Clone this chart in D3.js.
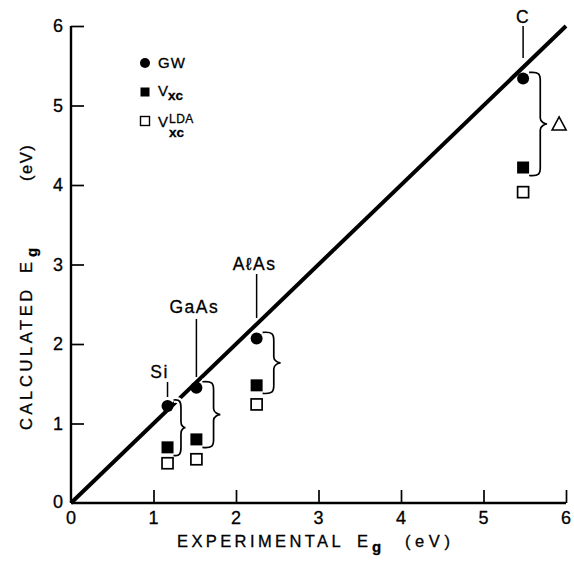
<!DOCTYPE html>
<html><head><meta charset="utf-8">
<script src="https://cdn.jsdelivr.net/npm/d3@7"></script>
<style>
body{margin:0;background:#fff;}
svg{display:block;}
text{font-family:"Liberation Sans","DejaVu Sans",sans-serif;fill:#000;stroke:#000;stroke-width:0.3px;}
</style></head>
<body><svg id="chart" width="574" height="561"></svg>
<script>
// ---- data ----
const materials = ["Si", "GaAs", "AℓAs", "C"];
const experimental = [1.17, 1.52, 2.25, 5.48];
const gwValues = [1.22, 1.45, 2.07, 5.34];
const vxcValues = [0.70, 0.80, 1.48, 4.22];
const vxcLdaValues = [0.50, 0.55, 1.24, 3.91];
const xTicks = [0, 1, 2, 3, 4, 5, 6];
const yTicks = [0, 1, 2, 3, 4, 5, 6];
const diagonal = [[0, 0], [6, 6]];

const svg = d3.select("#chart");
const x = d3.scaleLinear().domain([0, 6]).range([71, 566]);
const y = d3.scaleLinear().domain([0, 6]).range([503, 26]);

// axes lines
svg.append("line").attr("x1", x(0)).attr("x2", x(6)).attr("y1", y(0)).attr("y2", y(0))
  .attr("stroke", "#000").attr("stroke-width", 2.4);
svg.append("line").attr("x1", x(0)).attr("x2", x(0)).attr("y1", y(0)).attr("y2", y(6))
  .attr("stroke", "#000").attr("stroke-width", 2.4);

// inward ticks
const xa = svg.append("g").attr("transform", `translate(0,${y(0)})`)
  .call(d3.axisTop(x).tickValues(xTicks.slice(1)).tickSize(13).tickFormat(""));
xa.select(".domain").remove();
xa.selectAll("line").attr("stroke-width", 1.7);
const ya = svg.append("g").attr("transform", `translate(${x(0)},0)`)
  .call(d3.axisRight(y).tickValues(yTicks.slice(1)).tickSize(13).tickFormat(""));
ya.select(".domain").remove();
ya.selectAll("line").attr("stroke-width", 1.7);

// tick labels
svg.append("g").selectAll("text").data(xTicks).join("text")
  .attr("x", d => x(d)).attr("y", 524).attr("text-anchor", "middle")
  .attr("font-size", 18).text(d => d);
svg.append("g").selectAll("text").data(yTicks).join("text")
  .attr("x", 63).attr("y", d => y(d) + 6 - (d === 0 ? 1 : 0))
  .attr("text-anchor", "end").attr("font-size", 18).text(d => d);

// x axis title
svg.append("text").attr("x", 177).attr("y", 547).attr("font-size", 16.5)
  .attr("letter-spacing", 3.4).text("EXPERIMENTAL");
svg.append("text").attr("x", 357).attr("y", 547).attr("font-size", 16.5).text("E");
svg.append("text").attr("x", 372).attr("y", 552).attr("font-size", 15).attr("font-weight", "bold").text("g");
svg.append("text").attr("x", 405).attr("y", 547).attr("font-size", 16.5)
  .attr("letter-spacing", 4.6).text("(eV)");

// y axis title (rotated pieces)
function rotText(px, py, s, size, ls, weight) {
  return svg.append("text").attr("transform", `translate(${px},${py}) rotate(-90)`)
    .attr("font-size", size).attr("letter-spacing", ls).attr("font-weight", weight || "normal").text(s);
}
rotText(32, 430, "CALCULATED", 16.5, 3.6);
rotText(32, 273, "E", 16.5, 0);
rotText(37, 257, "g", 15, 0, "bold");
rotText(32, 181, "(eV)", 16.5, 1.5);

// diagonal line
svg.append("path").datum(diagonal)
  .attr("d", d3.line().x(d => x(d[0])).y(d => y(d[1])))
  .attr("stroke", "#000").attr("stroke-width", 4).attr("fill", "none");

// braces
function brace(xl, yTop, yBot, w) {
  const xb = xl + w * 0.62, xt2 = xl + w, ym = (yTop + yBot) / 2, r = 6;
  return `M${xl},${yTop} C${xb - 1},${yTop - 1} ${xb},${yTop + 2} ${xb},${yTop + r + 2}` +
    ` L${xb},${ym - r} C${xb},${ym - 2} ${xt2 - 2},${ym} ${xt2},${ym}` +
    ` C${xt2 - 2},${ym} ${xb},${ym + 2} ${xb},${ym + r}` +
    ` L${xb},${yBot - r - 2} C${xb},${yBot - 2} ${xb - 1},${yBot + 1} ${xl},${yBot}`;
}
const braceData = materials.map((m, i) => ({
  xl: x(experimental[i]) + 6,
  top: y(gwValues[i]) - 6,
  bot: y(vxcValues[i]) + 8,
  w: i === 0 ? 12 : 18
}));
const bg = svg.append("g");
bg.selectAll("path.bw").data(braceData).join("path")
  .attr("d", d => brace(d.xl, d.top, d.bot, d.w))
  .attr("fill", "none").attr("stroke", "#fff").attr("stroke-width", 6);
bg.selectAll("path.bk").data(braceData).join("path")
  .attr("d", d => brace(d.xl, d.top, d.bot, d.w))
  .attr("fill", "none").attr("stroke", "#000").attr("stroke-width", 1.7);

// delta triangle
const ci = 3;
const tx = x(experimental[ci]) + 36, ty = (y(gwValues[ci]) + y(vxcValues[ci])) / 2 + 1;
svg.append("path")
  .attr("d", `M${tx - 7},${ty + 6} L${tx + 7},${ty + 6} L${tx},${ty - 7} Z`)
  .attr("fill", "none").attr("stroke", "#000").attr("stroke-width", 1.6);

// markers
svg.append("g").selectAll("circle").data(materials).join("circle")
  .attr("cx", (d, i) => x(experimental[i])).attr("cy", (d, i) => y(gwValues[i]))
  .attr("r", 6).attr("fill", "#000");
svg.append("g").selectAll("rect").data(materials).join("rect")
  .attr("x", (d, i) => x(experimental[i]) - 6).attr("y", (d, i) => y(vxcValues[i]) - 6)
  .attr("width", 12).attr("height", 12).attr("fill", "#000");
svg.append("g").selectAll("rect").data(materials).join("rect")
  .attr("x", (d, i) => x(experimental[i]) - 5.5).attr("y", (d, i) => y(vxcLdaValues[i]) - 5.5)
  .attr("width", 11).attr("height", 11).attr("fill", "#fff")
  .attr("stroke", "#000").attr("stroke-width", 1.7);

// material labels with leaders
const labelInfo = [
  {dx: -8, ty: 378, l1: 382, l2: 397},
  {dx: -2, ty: 313, l1: 319, l2: 377},
  {dx: -2, ty: 270, l1: 274, l2: 318},
  {dx: 0, ty: 23, l1: 26, l2: 58}
];
materials.forEach((m, i) => {
  const px = x(experimental[i]);
  svg.append("text").attr("x", px + labelInfo[i].dx).attr("y", labelInfo[i].ty)
    .attr("text-anchor", "middle").attr("font-size", 17.5).attr("letter-spacing", 1.5)
    .text(m);
  svg.append("line").attr("x1", px).attr("x2", px)
    .attr("y1", labelInfo[i].l1).attr("y2", labelInfo[i].l2)
    .attr("stroke", "#000").attr("stroke-width", 1.5);
});

// legend
const lg = svg.append("g");
lg.append("circle").attr("cx", 145).attr("cy", 63).attr("r", 5).attr("fill", "#000");
lg.append("text").attr("x", 158).attr("y", 68).attr("font-size", 15).attr("letter-spacing", 1).text("GW");
lg.append("rect").attr("x", 140.5).attr("y", 87.5).attr("width", 9).attr("height", 9).attr("fill", "#000");
const l2 = lg.append("text").attr("x", 158).attr("y", 96).attr("font-size", 15);
l2.append("tspan").text("V");
l2.append("tspan").attr("dy", 4).attr("font-size", 13.5).attr("font-weight", "bold").text("xc");
lg.append("rect").attr("x", 140.5).attr("y", 116.5).attr("width", 9).attr("height", 9)
  .attr("fill", "#fff").attr("stroke", "#000").attr("stroke-width", 1.4);
lg.append("text").attr("x", 158).attr("y", 127).attr("font-size", 15).text("V");
lg.append("text").attr("x", 169).attr("y", 123).attr("font-size", 12).attr("letter-spacing", 0.5).text("LDA");
lg.append("text").attr("x", 169).attr("y", 137).attr("font-size", 13.5).attr("font-weight", "bold").text("xc");
</script></body></html>
